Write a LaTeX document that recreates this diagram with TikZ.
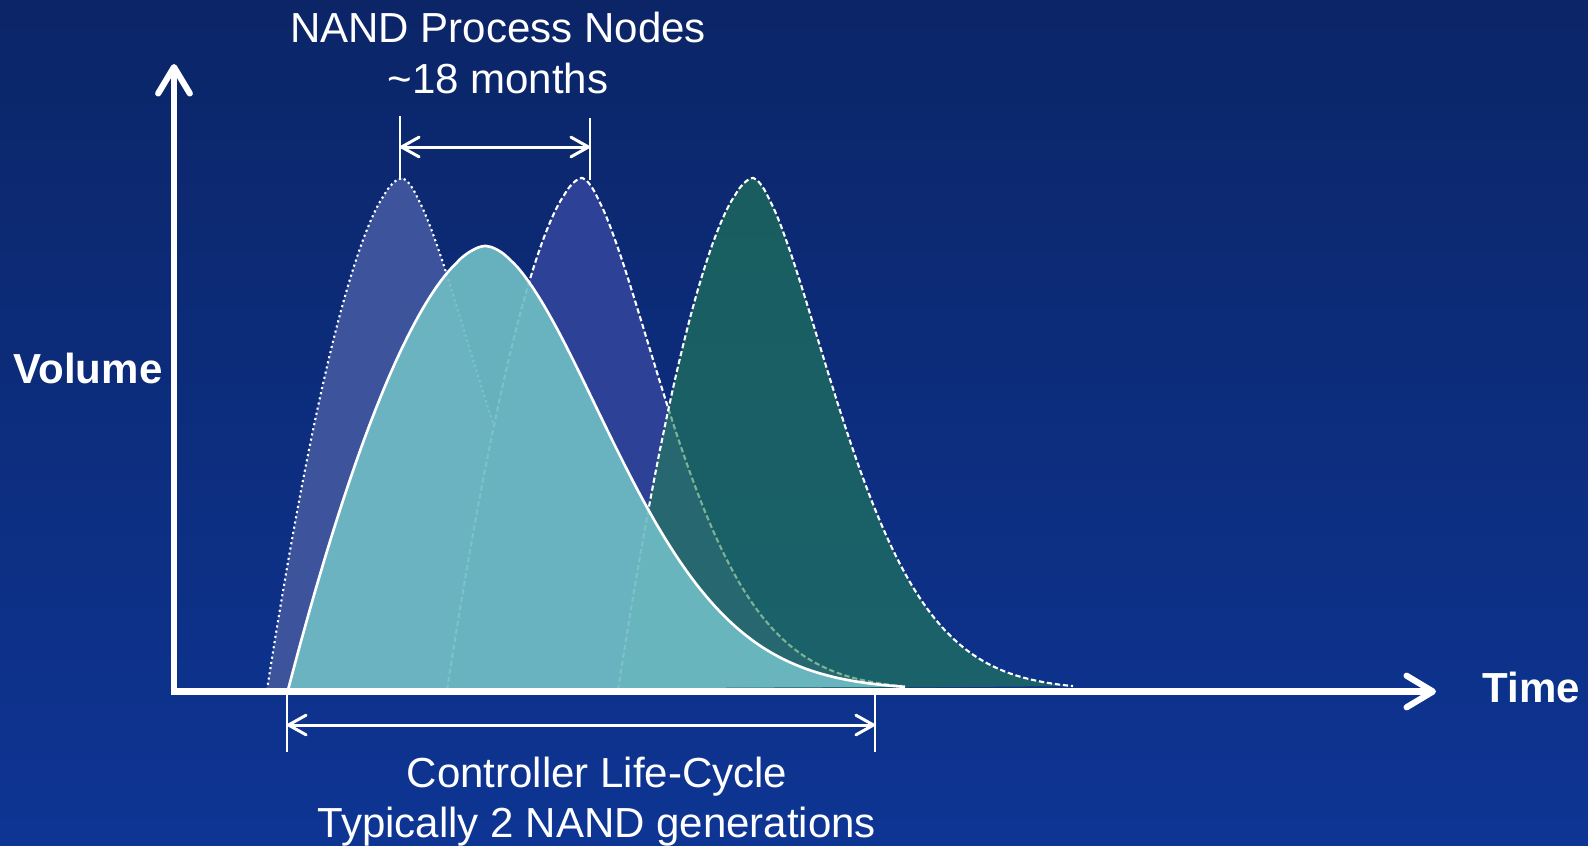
\documentclass[tikz,border=0pt]{standalone}
\usepackage{fontspec}
\setmainfont{Liberation Sans}
\usepackage{tikz}
\usetikzlibrary{arrows.meta}

\definecolor{bgtop}{RGB}{11,37,103}
\definecolor{bgbottom}{RGB}{14,53,148}
\definecolor{nandA}{RGB}{61,83,156}
\definecolor{nandB}{RGB}{45,66,150}
\definecolor{nandC}{RGB}{35,129,85}
\definecolor{ctrlcyan}{RGB}{111,188,196}

\begin{document}
\begin{tikzpicture}[x=0.01cm,y=-0.01cm,
    axis/.style={white,line width=1.75pt,-{Straight Barb[length=7.5pt,width=9pt,round]}},
    span/.style={white,line width=0.85pt,{Straight Barb[length=5pt,width=5.6pt,round]}-{Straight Barb[length=5pt,width=5.6pt,round]}},
    tick/.style={white,line width=0.6pt},
    lbl/.style={text=white,inner sep=0pt,font=\fontsize{11.95pt}{14pt}\selectfont},
    boldlbl/.style={lbl,font=\fontsize{11.95pt}{14pt}\selectfont\bfseries}]
    % background
    \useasboundingbox (0,0) rectangle (1588,845);
    \fill[top color=bgtop,bottom color=bgbottom] (0,0) rectangle (1588,845);

    % NAND process nodes (peaks at 402, 582, 753)
    \fill[nandA] plot[domain=-135:-0.5,samples=40,smooth,variable=\u] ({402+\u},{690-512*(1-pow(abs(\u)/135,1.7))})
        -- plot[domain=0.5:320,samples=60,smooth,variable=\u] ({402+\u},{690-512*exp(-pow(\u/119,1.6))}) -- cycle;
    \draw[white,line width=0.6pt,dash pattern=on 0.6pt off 0.9pt]
        plot[domain=-135:-0.5,samples=40,smooth,variable=\u] ({402+\u},{690-512*(1-pow(abs(\u)/135,1.7))})
        -- plot[domain=0.5:320,samples=60,smooth,variable=\u] ({402+\u},{690-512*exp(-pow(\u/119,1.6))});

    \fill[nandB] plot[domain=-135:-0.5,samples=40,smooth,variable=\u] ({582+\u},{690-512*(1-pow(abs(\u)/135,1.7))})
        -- plot[domain=0.5:320,samples=60,smooth,variable=\u] ({582+\u},{690-512*exp(-pow(\u/119,1.6))}) -- cycle;
    \draw[white,line width=0.6pt,dash pattern=on 1.5pt off 0.8pt]
        plot[domain=-135:-0.5,samples=40,smooth,variable=\u] ({582+\u},{690-512*(1-pow(abs(\u)/135,1.7))})
        -- plot[domain=0.5:320,samples=60,smooth,variable=\u] ({582+\u},{690-512*exp(-pow(\u/119,1.6))});

    \fill[nandC,fill opacity=0.6] plot[domain=-135:-0.5,samples=40,smooth,variable=\u] ({753+\u},{690-512*(1-pow(abs(\u)/135,1.7))})
        -- plot[domain=0.5:320,samples=60,smooth,variable=\u] ({753+\u},{690-512*exp(-pow(\u/119,1.6))}) -- cycle;
    \draw[white,line width=0.6pt,dash pattern=on 1.5pt off 0.8pt]
        plot[domain=-135:-0.5,samples=40,smooth,variable=\u] ({753+\u},{690-512*(1-pow(abs(\u)/135,1.7))})
        -- plot[domain=0.5:320,samples=60,smooth,variable=\u] ({753+\u},{690-512*exp(-pow(\u/119,1.6))});

    % controller life-cycle
    \fill[ctrlcyan,fill opacity=0.92] plot[domain=-197:-0.5,samples=50,smooth,variable=\u] ({485+\u},{690-444*(1-pow(abs(\u)/197,1.7))})
        -- plot[domain=0.5:420,samples=70,smooth,variable=\u] ({485+\u},{690-444*exp(-pow(\u/173,1.8))}) -- cycle;
    \draw[white,line width=0.75pt]
        plot[domain=-197:-0.5,samples=50,smooth,variable=\u] ({485+\u},{690-444*(1-pow(abs(\u)/197,1.7))})
        -- plot[domain=0.5:420,samples=70,smooth,variable=\u] ({485+\u},{690-444*exp(-pow(\u/173,1.8))});

    % axes
    \coordinate (origin) at (174,691.5);
    \coordinate (ytop) at (174,64);
    \coordinate (xend) at (1436,691.5);
    \draw[axis] (171,691.5) -- (xend);
    \draw[axis] (origin) -- (ytop);
    \node[boldlbl,anchor=base west] (volume) at (13,383) {Volume};
    \node[boldlbl,anchor=base west] (time) at (1482,702) {Time};

    % process node spacing
    \coordinate (n1top) at (400,116);
    \coordinate (n1bot) at (400,180);
    \coordinate (n2top) at (590,118);
    \coordinate (n2bot) at (590,180);
    \coordinate (n1mid) at (400,147);
    \coordinate (n2mid) at (590,147);
    \draw[tick] (n1top) -- (n1bot);
    \draw[tick] (n2top) -- (n2bot);
    \draw[span] (n1mid) -- (n2mid);
    \node[lbl,anchor=base] (nand) at (498,42) {NAND Process Nodes};
    \node[lbl,anchor=base] (months) at (498,93) {\textasciitilde18 months};

    % controller span
    \coordinate (c1top) at (287,694);
    \coordinate (c1bot) at (287,752);
    \coordinate (c2top) at (875,694);
    \coordinate (c2bot) at (875,752);
    \coordinate (c1mid) at (287,725);
    \coordinate (c2mid) at (875,725);
    \draw[tick] (c1top) -- (c1bot);
    \draw[tick] (c2top) -- (c2bot);
    \draw[span] (c1mid) -- (c2mid);
    \node[lbl,anchor=base] (ctrl) at (597,787) {Controller Life-Cycle};
    \node[lbl,anchor=base] (gens) at (597,837) {Typically 2 NAND generations};
\end{tikzpicture}
\end{document}
